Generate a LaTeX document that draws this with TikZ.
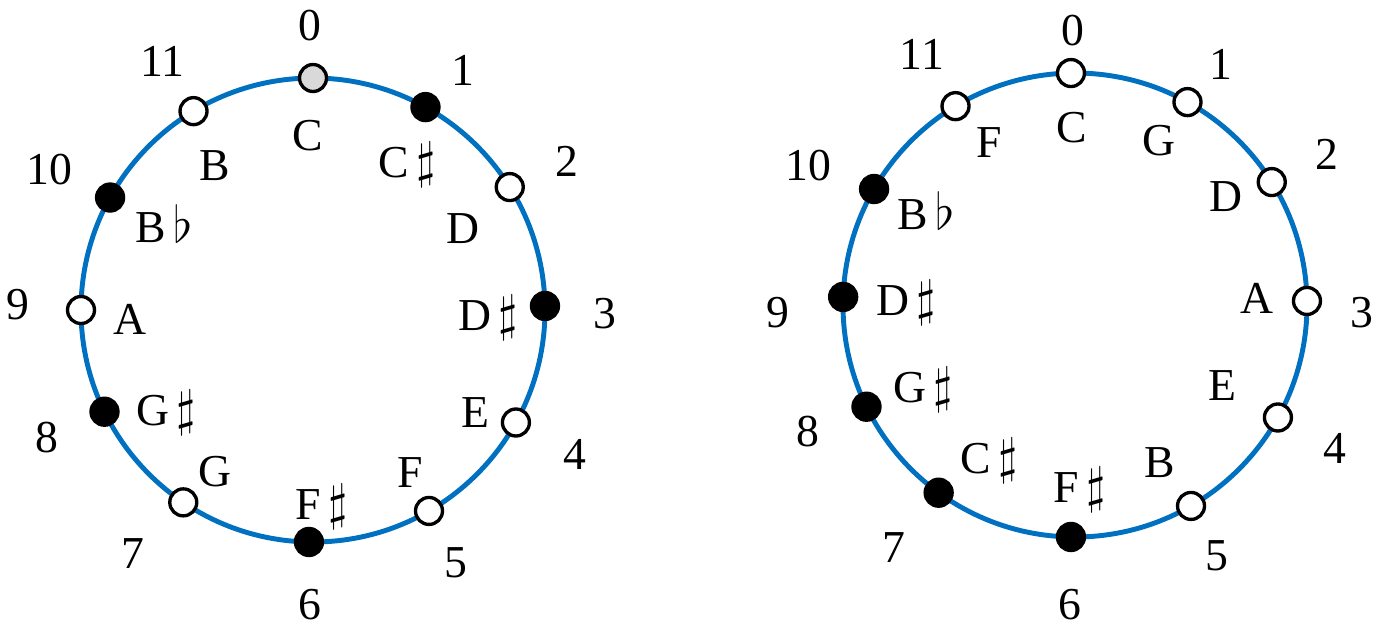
\documentclass[tikz,border=0pt]{standalone}
\usepackage{fontspec}
\setmainfont{Liberation Serif}
\usepackage{tikz}
\usetikzlibrary{calc}
\definecolor{ringblue}{RGB}{0,112,192}
\definecolor{keygrey}{RGB}{217,217,217}
\newcommand{\shp}{\,{\fontsize{15}{17}\selectfont$\sharp$}}
\newcommand{\flt}{\,{\fontsize{15}{17}\selectfont$\flat$}}

\begin{document}
\begin{tikzpicture}[
    ring/.style={draw=ringblue, line width=1.4pt},
    pitch/.style={circle, draw=black, line width=0.95pt, minimum size=0.27cm, inner sep=0pt},
    numlabel/.style={font=\fontsize{13}{15}\selectfont, inner sep=0pt, text height=0.3cm, text depth=0pt},
    notelabel/.style={font=\fontsize{13}{15}\selectfont, inner sep=0pt, text height=0.3cm, text depth=0pt}
]
\useasboundingbox (0,0) rectangle (13.89,6.25);

% chromatic circle
\coordinate (lc) at (3.13,3.15);
\draw[ring] (lc) circle (2.32);
\foreach \i/\a/\f/\na/\nr/\nx/\ny/\txt in {
    0/90/keygrey/90.6/2.85/-0.05/1.75/C,
    1/61/black/58/2.82/0.94/1.48/C\shp,
    2/32/white/30.4/2.94/1.50/0.82/D,
    3/1/black/-0.6/2.92/1.75/-0.05/D\shp,
    4/-29/white/-28.8/2.99/1.62/-1.02/E,
    5/-60/white/-60.4/2.90/0.97/-1.62/F,
    6/-91/black/-90.6/2.95/0.09/-1.94/F\shp,
    7/-124/white/-126.4/3.03/-0.98/-1.61/G,
    8/-154/black/-154.5/2.95/-1.47/-1.00/G\shp,
    9/180/white/179/2.95/-1.83/-0.09/A,
    10/151/black/152/2.99/-1.49/0.83/B\flt,
    11/121/white/121.2/2.91/-0.98/1.45/B}
{
  \node[pitch, fill=\f] (l\i) at ($(lc)+(\a:2.32)$) {};
  \node[numlabel] (ln\i) at ($(lc)+(\na:\nr)$) {\i};
  \node[notelabel] (lt\i) at ($(lc)+(\nx,\ny)$) {\txt};
}

% circle of fifths
\coordinate (rc) at (10.75,3.20);
\draw[ring] (rc) circle (2.32);
\foreach \i/\a/\f/\na/\nr/\nx/\ny/\txt in {
    0/91/white/90.4/2.75/-0.03/1.78/C,
    1/61/white/58.7/2.81/0.84/1.65/G,
    2/32/white/30.8/2.93/1.51/1.09/D,
    3/1/white/-1.4/2.87/1.82/0.07/A,
    4/-29/white/-28.8/2.97/1.47/-0.80/E,
    5/-60/white/-60.5/2.88/0.85/-1.57/B,
    6/-91/black/-91/3.00/0.05/-1.82/F\shp,
    7/-126/black/-126.7/3.03/-0.86/-1.53/C\shp,
    8/-154/black/-154.6/2.96/-1.52/-0.82/G\shp,
    9/178/black/181.4/2.97/-1.69/0.05/D\shp,
    10/150/black/152.3/3.01/-1.49/0.91/B\flt,
    11/121/white/121.4/2.94/-0.86/1.63/F}
{
  \node[pitch, fill=\f] (r\i) at ($(rc)+(\a:2.32)$) {};
  \node[numlabel] (rn\i) at ($(rc)+(\na:\nr)$) {\i};
  \node[notelabel] (rt\i) at ($(rc)+(\nx,\ny)$) {\txt};
}
\end{tikzpicture}
\end{document}
